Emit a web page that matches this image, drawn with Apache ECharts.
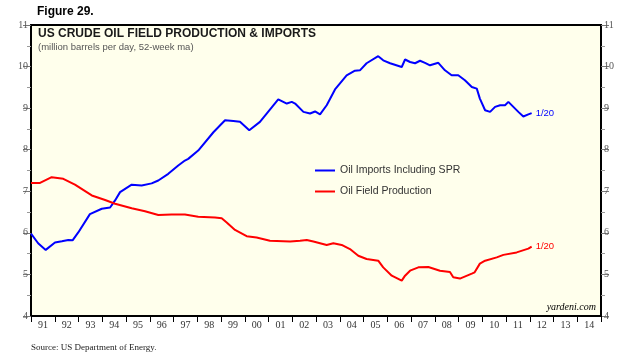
<!DOCTYPE html>
<html>
<head>
<meta charset="utf-8">
<script src="https://cdn.jsdelivr.net/npm/echarts@6/dist/echarts.min.js"></script>
<style>html,body{margin:0;padding:0;background:#fff}#c{width:640px;height:360px}</style>
</head>
<body>
<div id="c"></div>
<script>
var yearLabels = ['91','92','93','94','95','96','97','98','99','00','01','02','03','04','05','06','07','08','09','10','11','12','13','14'];

var importYears = [1991.0,1991.3,1991.62,1992.01,1992.3,1992.57,1992.75,1992.99,1993.48,1993.98,1994.33,1994.54,1994.75,1995.24,1995.66,1996.08,1996.36,1996.78,1997.2,1997.48,1997.62,1998.04,1998.12,1998.68,1999.17,1999.52,1999.8,2000.19,2000.64,2001.41,2001.77,2001.98,2002.12,2002.47,2002.75,2002.96,2003.17,2003.45,2003.8,2004.29,2004.64,2004.85,2005.13,2005.62,2005.83,2006.12,2006.61,2006.75,2006.96,2007.17,2007.38,2007.59,2007.8,2008.15,2008.43,2008.71,2008.99,2009.27,2009.56,2009.77,2009.9,2010.12,2010.33,2010.54,2010.75,2010.96,2011.1,2011.31,2011.52,2011.73,2011.94,2012.08];
var importValues = [5.98,5.75,5.59,5.77,5.8,5.83,5.82,6.01,6.45,6.58,6.61,6.78,6.98,7.16,7.14,7.19,7.26,7.42,7.62,7.74,7.78,7.98,8.02,8.42,8.71,8.69,8.67,8.47,8.67,9.21,9.11,9.15,9.11,8.91,8.87,8.92,8.85,9.07,9.45,9.79,9.9,9.91,10.08,10.25,10.15,10.08,9.99,10.17,10.11,10.08,10.14,10.09,10.03,10.09,9.91,9.79,9.79,9.67,9.51,9.47,9.23,8.95,8.91,9.03,9.07,9.07,9.15,9.03,8.91,8.8,8.85,8.88];

var prodYears = [1991.0,1991.38,1991.87,1992.36,1992.85,1993.56,1994.12,1994.54,1995.24,1995.8,1996.36,1996.92,1997.48,1998.04,1998.75,1999.03,1999.24,1999.59,2000.08,2000.5,2001.06,2001.91,2002.33,2002.61,2002.89,2003.45,2003.73,2004.08,2004.43,2004.78,2005.13,2005.62,2005.83,2006.19,2006.61,2006.75,2006.96,2007.31,2007.73,2008.22,2008.64,2008.78,2009.06,2009.56,2009.68,2009.9,2010.12,2010.61,2010.89,2011.45,2011.94,2012.08];
var prodValues = [7.2,7.2,7.34,7.3,7.16,6.9,6.79,6.7,6.59,6.52,6.43,6.44,6.44,6.39,6.37,6.35,6.25,6.07,5.92,5.89,5.81,5.79,5.81,5.83,5.79,5.71,5.75,5.71,5.61,5.45,5.37,5.33,5.17,4.97,4.85,4.97,5.09,5.17,5.18,5.09,5.06,4.93,4.9,5.02,5.05,5.26,5.33,5.41,5.47,5.53,5.62,5.67];

var importName = 'Oil Imports Including SPR';
var prodName = 'Oil Field Production';
var endLabelText = '1/20';

function pairs(xs, ys){ return xs.map(function(x,i){ return [x, ys[i]]; }); }

var serif = '"Liberation Serif","DejaVu Serif",serif';
var sans = '"Liberation Sans",Arial,sans-serif';

var chart = echarts.init(document.getElementById('c'), null, {renderer:'canvas'});
var yAxisCommon = {
  type:'value', min:4, max:11, interval:1,
  axisLine:{show:true, lineStyle:{color:'#000', width:2}},
  axisTick:{show:true, length:8, lineStyle:{color:'#777'}},
  minorTick:{show:true, splitNumber:2, length:4, lineStyle:{color:'#999'}},
  splitLine:{show:false},
  axisLabel:{fontFamily:serif, fontSize:10, color:'#555', margin:3}
};
chart.setOption({
  animation:false,
  backgroundColor:'#ffffff',
  title:{
    text:'US CRUDE OIL FIELD PRODUCTION & IMPORTS',
    subtext:'(million barrels per day, 52-week ma)',
    left:38, top:28, itemGap:2, padding:0,
    textStyle:{fontFamily:sans, fontSize:12, fontWeight:'bold', color:'#1a1a1a'},
    subtextStyle:{fontFamily:sans, fontSize:9.5, color:'#555'}
  },
  graphic:[
    {type:'text', left:37, top:6, style:{text:'Figure 29.', font:'bold 12px '+sans, fill:'#000'}},
    {type:'text', right:44, top:302, style:{text:'yardeni.com', font:'italic 10px '+serif, fill:'#000'}},
    {type:'text', left:31, top:343, style:{text:'Source: US Department of Energy.', font:'9px '+serif, fill:'#222'}}
  ],
  legend:{
    orient:'vertical', left:310, top:160, itemGap:10, itemWidth:20, itemHeight:2,
    icon:'rect',
    textStyle:{fontFamily:sans, fontSize:10.5, color:'#333'},
    data:[importName, prodName]
  },
  grid:{left:31, right:39, top:25, bottom:44, show:true, backgroundColor:'#FFFFEC', borderColor:'#000', borderWidth:2},
  xAxis:[
    {type:'category', data:yearLabels, boundaryGap:true, position:'bottom',
     axisLine:{show:true, lineStyle:{color:'#000', width:2}},
     axisTick:{show:true, length:6, lineStyle:{color:'#000'}},
     axisLabel:{fontFamily:serif, fontSize:10, color:'#333', margin:4},
     splitLine:{show:false}},
    {type:'value', min:1991, max:2015, show:false, position:'bottom'}
  ],
  yAxis:[
    Object.assign({}, yAxisCommon, {position:'left'}),
    Object.assign({}, yAxisCommon, {position:'right'})
  ],
  series:[
    {name:importName, type:'line', xAxisIndex:1, yAxisIndex:0, data:pairs(importYears, importValues),
     showSymbol:false, symbol:'none', lineStyle:{color:'#0000FF', width:2}, itemStyle:{color:'#0000FF'},
     endLabel:{show:true, formatter:endLabelText, color:'#0000FF', fontFamily:sans, fontSize:9.5, distance:4}},
    {name:prodName, type:'line', xAxisIndex:1, yAxisIndex:0, data:pairs(prodYears, prodValues),
     showSymbol:false, symbol:'none', lineStyle:{color:'#FF0000', width:2}, itemStyle:{color:'#FF0000'},
     endLabel:{show:true, formatter:endLabelText, color:'#FF0000', fontFamily:sans, fontSize:9.5, distance:4}}
  ]
});
</script>
</body>
</html>
